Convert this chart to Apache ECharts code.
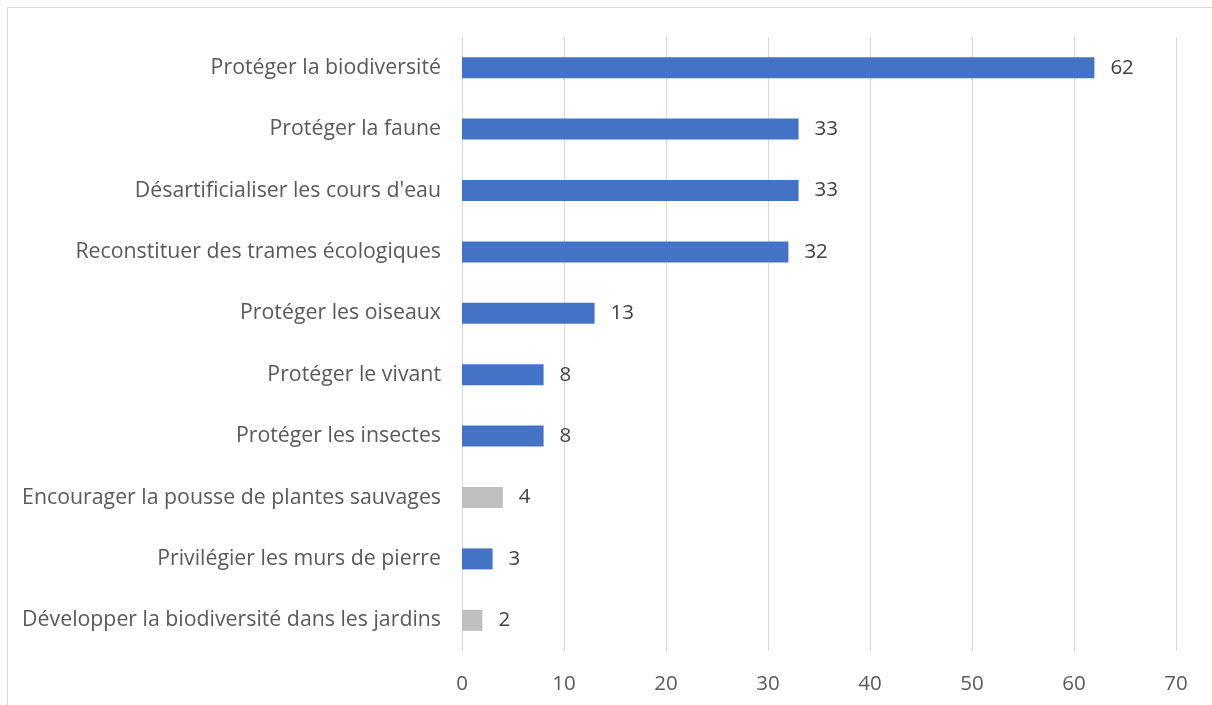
<!DOCTYPE html>
<html><head><meta charset="utf-8">
<script src="https://cdn.jsdelivr.net/npm/echarts@6/dist/echarts.min.js"></script>
<style>html,body{margin:0;padding:0;background:#fff}#c{width:1212px;height:705px}</style>
</head><body><div id="c"></div>
<script>
const categories = [
  "Protéger la biodiversité",
  "Protéger la faune",
  "Désartificialiser les cours d'eau",
  "Reconstituer des trames écologiques",
  "Protéger les oiseaux",
  "Protéger le vivant",
  "Protéger les insectes",
  "Encourager la pousse de plantes sauvages",
  "Privilégier les murs de pierre",
  "Développer la biodiversité dans les jardins"
];
const values = [62, 33, 33, 32, 13, 8, 8, 4, 3, 2];
const barColors = ["#4472C4","#4472C4","#4472C4","#4472C4","#4472C4","#4472C4","#4472C4","#BFBFBF","#4472C4","#BFBFBF"];
const xTicks = [0, 10, 20, 30, 40, 50, 60, 70];

const FONT = "Open Sans";
const FS = 20.5;
const chart = echarts.init(document.getElementById('c'), null, {renderer:'canvas'});
chart.setOption({
  animation: false,
  grid: {left: 462, right: 36, top: 37, bottom: 54, containLabel: false},
  xAxis: {
    type: 'value', min: xTicks[0], max: xTicks[xTicks.length-1], interval: 10,
    axisLine: {show:false}, axisTick: {show:false},
    splitLine: {show:true, lineStyle:{color:'#D9D9D9', width:1}},
    axisLabel: {color:'#595959', fontFamily: FONT, fontSize: FS, lineHeight: 21, margin: 23}
  },
  yAxis: {
    type: 'category', data: categories, inverse: true,
    axisLine: {show:false}, axisTick: {show:false},
    axisLabel: {color:'#595959', fontFamily: FONT, fontSize: 21.3, margin: 21}
  },
  series: [{
    type: 'bar', barWidth: 21,
    data: values.map((v,i)=>({value:v, itemStyle:{color:barColors[i]}})),
    label: {show:true, position:'right', distance: 16, color:'#404040', fontFamily: FONT, fontSize: FS}
  }],
  graphic: [
    {type:'line', shape:{x1:7, y1:7.5, x2:1212, y2:7.5}, style:{stroke:'#D9D9D9', lineWidth:1}},
    {type:'line', shape:{x1:7.5, y1:7, x2:7.5, y2:705}, style:{stroke:'#D9D9D9', lineWidth:1}}
  ]
});
</script></body></html>
